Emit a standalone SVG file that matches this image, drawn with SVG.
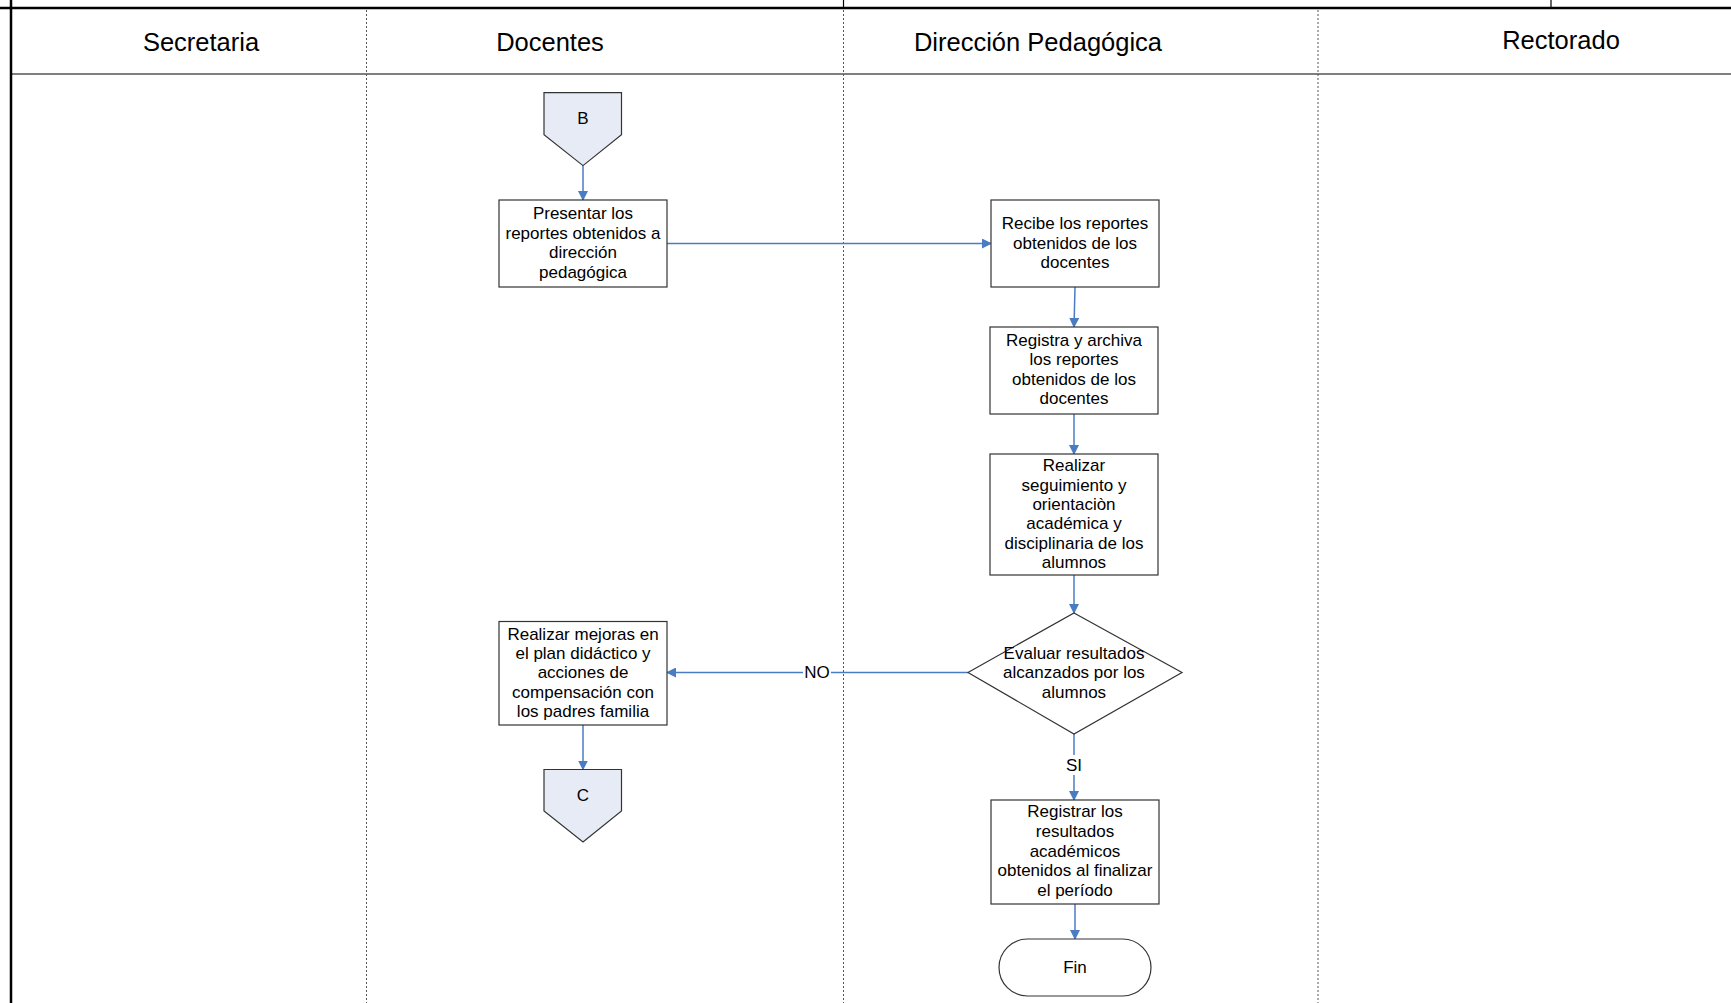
<svg xmlns="http://www.w3.org/2000/svg" width="1731" height="1003" viewBox="0 0 1731 1003">
<style>
.frame{stroke:#000;stroke-width:2.5;fill:none}
.hline{stroke:#000;stroke-width:1.2;fill:none}
.lane{stroke:#555;stroke-width:1;stroke-dasharray:2,2;fill:none}
.hdr{font-family:"Liberation Sans",Arial,sans-serif;font-size:25.5px;fill:#000;text-anchor:middle;dominant-baseline:central}
.box{fill:#fff;stroke:#333;stroke-width:1.2}
.conn{fill:#E6EBF5;stroke:#333;stroke-width:1.2}
.t{font-family:"Liberation Sans",Arial,sans-serif;font-size:17px;fill:#000;text-anchor:middle;dominant-baseline:central}
.edge{stroke:#4A7CC4;stroke-width:1.5;fill:none;marker-end:url(#arr)}
</style>
<defs>
<marker id="arr" viewBox="0 0 10 10" refX="9" refY="5" markerWidth="10" markerHeight="10" markerUnits="userSpaceOnUse" orient="auto">
<path d="M0,0 L10,5 L0,10 z" fill="#4A7CC4"/>
</marker>
</defs>
<rect width="1731" height="1003" fill="#fff"/>
<g id="frame">
<line class="frame" x1="0" y1="8" x2="1731" y2="8"/>
<line class="frame" x1="11" y1="0" x2="11" y2="1003"/>
<line class="hline" x1="843.5" y1="0" x2="843.5" y2="8"/>
<line class="hline" x1="1551" y1="0" x2="1551" y2="8"/>
<line class="hline" x1="11" y1="74" x2="1731" y2="74"/>
<line class="lane" x1="366.5" y1="10" x2="366.5" y2="1003"/>
<line class="lane" x1="843.5" y1="10" x2="843.5" y2="1003"/>
<line class="lane" x1="1318" y1="10" x2="1318" y2="1003"/>
<text class="hdr" x="201" y="42">Secretaria</text>
<text class="hdr" x="550" y="42">Docentes</text>
<text class="hdr" x="1038" y="42">Dirección Pedagógica</text>
<text class="hdr" x="1561" y="40">Rectorado</text>
</g>
<g id="connectors">
<line class="edge" x1="583" y1="165.6" x2="583" y2="200"/>
<line class="edge" x1="667" y1="243.5" x2="991" y2="243.5"/>
<line class="edge" x1="1075" y1="287" x2="1074" y2="327"/>
<line class="edge" x1="1074" y1="414" x2="1074" y2="454"/>
<line class="edge" x1="1074" y1="575" x2="1074" y2="613"/>
<line class="edge" x1="968" y1="672.5" x2="667" y2="672.5"/>
<line class="edge" x1="1074" y1="734" x2="1074" y2="800"/>
<line class="edge" x1="583" y1="725" x2="583" y2="769.5"/>
<line class="edge" x1="1075" y1="904" x2="1075" y2="939"/>
<rect x="803" y="662" width="28" height="20" fill="#fff"/>
<text class="t" x="817" y="672.5">NO</text>
<rect x="1064" y="755" width="20" height="20" fill="#fff"/>
<text class="t" x="1074" y="765">SI</text>
</g>
<g id="nodeB">
<path class="conn" d="M544,92.7 L621.5,92.7 L621.5,134.7 L583,165.6 L544,134.7 Z"/>
<text class="t" x="583" y="118">B</text>
</g>
<g id="presentar">
<rect class="box" x="499" y="200" width="168" height="87"/>
<text class="t" x="583" y="213.5">Presentar los</text>
<text class="t" x="583" y="233">reportes obtenidos a</text>
<text class="t" x="583" y="252.5">dirección</text>
<text class="t" x="583" y="272">pedagógica</text>
</g>
<g id="recibe">
<rect class="box" x="991" y="200" width="168" height="87"/>
<text class="t" x="1075" y="223.5">Recibe los reportes</text>
<text class="t" x="1075" y="243">obtenidos de los</text>
<text class="t" x="1075" y="262.5">docentes</text>
</g>
<g id="registra">
<rect class="box" x="990" y="327" width="168" height="87"/>
<text class="t" x="1074" y="340">Registra y archiva</text>
<text class="t" x="1074" y="359.5">los reportes</text>
<text class="t" x="1074" y="379">obtenidos de los</text>
<text class="t" x="1074" y="398.5">docentes</text>
</g>
<g id="seguimiento">
<rect class="box" x="990" y="454" width="168" height="121"/>
<text class="t" x="1074" y="465.5">Realizar</text>
<text class="t" x="1074" y="485">seguimiento y</text>
<text class="t" x="1074" y="504">orientaciòn</text>
<text class="t" x="1074" y="523.5">académica y</text>
<text class="t" x="1074" y="543">disciplinaria de los</text>
<text class="t" x="1074" y="562.5">alumnos</text>
</g>
<g id="evaluar">
<path class="box" d="M1074,613 L1182,672.5 L1074,734 L968,672.5 Z"/>
<text class="t" x="1074" y="653">Evaluar resultados</text>
<text class="t" x="1074" y="672.5">alcanzados por los</text>
<text class="t" x="1074" y="692">alumnos</text>
</g>
<g id="mejoras">
<rect class="box" x="499" y="621.5" width="168" height="103.5"/>
<text class="t" x="583" y="634">Realizar mejoras en</text>
<text class="t" x="583" y="653">el plan didáctico y</text>
<text class="t" x="583" y="672.5">acciones de</text>
<text class="t" x="583" y="692">compensación con</text>
<text class="t" x="583" y="711.5">los padres familia</text>
</g>
<g id="nodeC">
<path class="conn" d="M544,769.5 L621.5,769.5 L621.5,811 L583,842 L544,811 Z"/>
<text class="t" x="583" y="795">C</text>
</g>
<g id="registrar">
<rect class="box" x="991" y="800" width="168" height="104"/>
<text class="t" x="1075" y="811.5">Registrar los</text>
<text class="t" x="1075" y="831">resultados</text>
<text class="t" x="1075" y="851">académicos</text>
<text class="t" x="1075" y="870.5">obtenidos al finalizar</text>
<text class="t" x="1075" y="890">el período</text>
</g>
<g id="fin">
<rect class="box" x="999" y="939" width="152" height="57" rx="28.5" ry="28.5"/>
<text class="t" x="1075" y="967.5">Fin</text>
</g>
</svg>
